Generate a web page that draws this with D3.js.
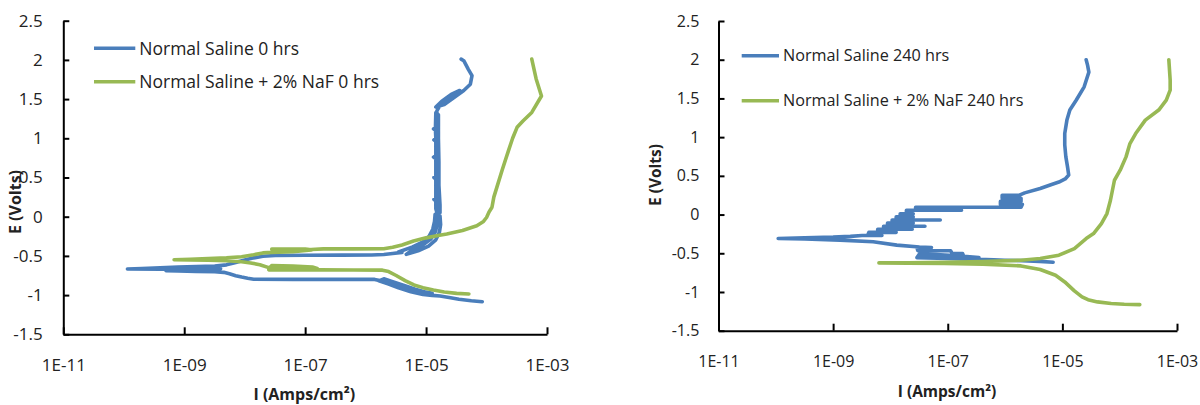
<!DOCTYPE html>
<html>
<head>
<meta charset="utf-8">
<script src="https://cdn.jsdelivr.net/npm/d3@7"></script>
<style>
  html, body { margin: 0; padding: 0; background: #fff; }
  svg { display: block; }
  text { font-family: "Open Sans", sans-serif; fill: #222; }
</style>
</head>
<body>
<svg id="chart" width="1200" height="405"></svg>
<script>
// Tick values for both panels
const currentTicks = [1e-11, 1e-9, 1e-7, 1e-5, 1e-3];
const potentialTicks = [-1.5, -1, -0.5, 0, 0.5, 1, 1.5, 2, 2.5];

// Legend labels
const names0 = ["Normal Saline 0 hrs", "Normal Saline + 2% NaF 0 hrs"];
const names240 = ["Normal Saline 240 hrs", "Normal Saline + 2% NaF 240 hrs"];

// Polarization scans: [current density (A/cm²), potential (V)] in scan order.
// Noisy stretches of a scan run back and forth, which shows as a thick band.
const saline0 = [
  [8.5e-5,-1.084],[5.6e-5,-1.072],[3.5e-5,-1.052],[2.4e-5,-1.030],[1.7e-5,-1.012],[1.26e-5,-1.003],
  [8.9e-6,-0.992],[5.6e-6,-0.958],[3.5e-6,-0.908],[2.4e-6,-0.858],[1.66e-6,-0.818],
  [2.0e-6,-0.792],[2.8e-6,-0.828],[4.2e-6,-0.875],[6.6e-6,-0.925],[1.0e-5,-0.962],[1.26e-5,-0.978],
  [8.9e-6,-0.975],[5.0e-6,-0.925],[3.2e-6,-0.872],[2.1e-6,-0.828],[1.41e-6,-0.800],
  [3.2e-7,-0.800],[6.3e-8,-0.800],[1.41e-8,-0.797],[1.12e-8,-0.785],[8.9e-9,-0.770],[7.1e-9,-0.752],
  [5.6e-9,-0.728],[4.5e-9,-0.710],[3.2e-9,-0.701],
  [1.58e-9,-0.697],[7.9e-10,-0.692],[5.0e-10,-0.689],
  [1.0e-9,-0.670],[4.0e-9,-0.665],
  [1.0e-9,-0.669],[4.0e-10,-0.669],[1.15e-10,-0.668],
  [2.0e-10,-0.660],[4.0e-10,-0.652],[7.9e-10,-0.643],[1.58e-9,-0.636],[3.2e-9,-0.630],[5.0e-9,-0.614],
  [7.1e-9,-0.585],[1.0e-8,-0.552],[1.41e-8,-0.525],[2.0e-8,-0.505],[3.2e-8,-0.495],[1.0e-7,-0.492],
  [4.0e-7,-0.490],[1.26e-6,-0.488],[2.0e-6,-0.482],[2.8e-6,-0.470],[4.0e-6,-0.455],
  [3.5e-6,-0.450],[6.0e-6,-0.385],[8.9e-6,-0.320],[1.12e-5,-0.250],[1.29e-5,-0.160],[1.38e-5,-0.060],
  [1.41e-5,0.030],
  [1.7e-5,0.010],[1.74e-5,-0.100],[1.66e-5,-0.200],[1.45e-5,-0.295],[1.1e-5,-0.375],[7.4e-6,-0.435],
  [4.7e-6,-0.480],
  [6.0e-6,-0.420],[8.9e-6,-0.360],[1.2e-5,-0.285],[1.43e-5,-0.190],[1.53e-5,-0.090],[1.55e-5,0.020],
  [1.45e-5,0.10],[1.45e-5,0.20],[1.35e-5,0.22],[1.45e-5,0.24],[1.45e-5,0.48],[1.35e-5,0.50],
  [1.45e-5,0.52],[1.45e-5,0.74],[1.33e-5,0.76],[1.45e-5,0.78],[1.45e-5,0.96],[1.35e-5,0.98],
  [1.45e-5,1.00],[1.43e-5,1.10],[1.33e-5,1.12],[1.43e-5,1.14],[1.45e-5,1.33],
  [1.6e-5,1.30],[1.6e-5,1.00],[1.63e-5,0.70],[1.63e-5,0.40],[1.7e-5,0.15],[1.7e-5,0.05],
  [1.55e-5,0.10],[1.52e-5,0.50],[1.52e-5,0.90],[1.51e-5,1.25],[1.51e-5,1.35],
  [1.7e-5,1.42],[2.2e-5,1.48],[3.6e-5,1.61],
  [2.6e-5,1.56],[1.8e-5,1.47],[1.45e-5,1.40],
  [2.0e-5,1.43],[2.9e-5,1.52],[4.2e-5,1.61],
  [5.4e-5,1.69],[5.75e-5,1.80],[5.0e-5,1.88],[4.2e-5,1.99],[3.8e-5,2.01]
];

const salineNaF0 = [
  [5.1e-5,-0.985],[3.2e-5,-0.978],[2.0e-5,-0.960],[1.32e-5,-0.935],[8.9e-6,-0.905],[6.3e-6,-0.870],
  [4.5e-6,-0.815],[3.2e-6,-0.750],[2.4e-6,-0.700],[1.9e-6,-0.682],[6.3e-7,-0.680],[1.78e-7,-0.678],
  [1.41e-7,-0.680],[2.5e-8,-0.678],
  [2.8e-8,-0.622],[6.3e-8,-0.630],[1.32e-7,-0.642],[1.58e-7,-0.660],
  [1.0e-7,-0.652],[2.5e-8,-0.650],
  [1.78e-8,-0.612],[1.26e-8,-0.590],[8.9e-9,-0.575],[5.0e-9,-0.562],[2.5e-9,-0.555],[1.26e-9,-0.552],
  [6.8e-10,-0.550],
  [1.26e-9,-0.543],[2.5e-9,-0.535],[5.0e-9,-0.525],[8.9e-9,-0.510],[1.41e-8,-0.485],[2.0e-8,-0.462],
  [2.8e-8,-0.455],[6.3e-8,-0.445],[1.26e-7,-0.425],
  [1.0e-7,-0.412],[2.8e-8,-0.414],
  [5.0e-8,-0.432],[1.26e-7,-0.418],[2.0e-7,-0.411],
  [6.3e-7,-0.410],[2.0e-6,-0.408],[2.8e-6,-0.390],[4.0e-6,-0.360],[6.2e-6,-0.310],[1.0e-5,-0.270],
  [1.58e-5,-0.240],[2.2e-5,-0.220],[4.0e-5,-0.175],[6.9e-5,-0.115],[8.9e-5,-0.060],[1.0e-4,-0.010],
  [1.1e-4,0.060],[1.23e-4,0.120],[1.32e-4,0.250],[1.48e-4,0.374],[1.82e-4,0.600],[2.3e-4,0.840],
  [2.7e-4,1.000],[3.2e-4,1.140],[4.0e-4,1.220],[5.6e-4,1.330],[8.1e-4,1.540],[6.6e-4,1.760],
  [5.6e-4,2.010]
];

const saline240 = [
  [6.9e-6,-0.616],[4.0e-6,-0.605],[2.0e-6,-0.595],[1.0e-6,-0.590],[6.3e-7,-0.585],
  [2.5e-7,-0.576],[1.0e-7,-0.566],[2.9e-8,-0.556],
  [3.2e-8,-0.510],[6.3e-8,-0.518],[1.26e-7,-0.530],[3.5e-7,-0.555],
  [1.9e-7,-0.540],[1.82e-7,-0.505],[1.2e-7,-0.505],[1.12e-7,-0.468],[3.0e-8,-0.466],
  [2.9e-8,-0.425],[5.2e-8,-0.425],[3.2e-8,-0.420],
  [1.29e-8,-0.395],[5.0e-9,-0.352],[1.32e-9,-0.330],[3.2e-10,-0.315],[1.1e-10,-0.309],
  [3.2e-10,-0.300],[1.0e-9,-0.292],[2.0e-9,-0.282],[3.2e-9,-0.270],
  [7.1e-9,-0.270],[4.0e-9,-0.270],[4.2e-9,-0.230],
  [1.26e-8,-0.230],[6.0e-9,-0.230],[6.0e-9,-0.190],
  [2.4e-8,-0.190],[7.6e-9,-0.190],[7.6e-9,-0.150],
  [4.0e-8,-0.150],[8.9e-9,-0.150],[8.9e-9,-0.110],
  [2.5e-8,-0.110],[1.07e-8,-0.110],[1.07e-8,-0.070],
  [7.4e-8,-0.070],[1.26e-8,-0.070],[1.26e-8,-0.030],
  [2.5e-8,-0.030],[1.48e-8,-0.030],[1.48e-8,0.010],
  [2.5e-8,0.010],[1.9e-8,0.010],[1.9e-8,0.055],
  [1.74e-7,0.055],[2.75e-8,0.055],[2.75e-8,0.095],
  [1.9e-6,0.095],
  [2.0e-6,0.130],[8.3e-7,0.130],[8.3e-7,0.170],[1.9e-6,0.170],[1.9e-6,0.210],[8.9e-7,0.210],
  [8.9e-7,0.250],[1.78e-6,0.250],
  [2.2e-6,0.280],[4.1e-6,0.336],[6.3e-6,0.385],[8.7e-6,0.420],[1.12e-5,0.460],[1.29e-5,0.510],
  [1.23e-5,0.616],[1.15e-5,0.745],[1.10e-5,0.900],[1.10e-5,1.046],[1.20e-5,1.220],[1.35e-5,1.350],
  [1.74e-5,1.477],[2.4e-5,1.650],[2.9e-5,1.840],[2.75e-5,1.930],[2.6e-5,2.000]
];

const salineNaF240 = [
  [2.24e-4,-1.163],[1.2e-4,-1.158],[7.1e-5,-1.148],[4.1e-5,-1.128],[2.8e-5,-1.100],[2.2e-5,-1.063],
  [1.62e-5,-0.986],[1.1e-5,-0.870],[7.6e-6,-0.784],[4.1e-6,-0.710],[1.9e-6,-0.663],[4.1e-7,-0.640],
  [8.7e-8,-0.633],[2.0e-8,-0.627],[6.3e-9,-0.624],
  [2.0e-8,-0.622],[8.7e-8,-0.618],[4.1e-7,-0.607],[1.9e-6,-0.590],[4.1e-6,-0.568],[8.7e-6,-0.525],
  [1.62e-5,-0.440],[2.6e-5,-0.310],[3.5e-5,-0.245],[4.8e-5,-0.116],[6.0e-5,0.013],[6.9e-5,0.185],
  [8.1e-5,0.443],[1.02e-4,0.573],[1.29e-4,0.745],[1.51e-4,0.917],[1.9e-4,1.046],[2.8e-4,1.220],
  [4.8e-4,1.350],[6.5e-4,1.477],[7.6e-4,1.606],[7.6e-4,1.735],[7.2e-4,2.000]
];

const colors = ["#4A7EBB", "#98B954"];

const svg = d3.select("#chart");

function drawPanel(p) {
  const x = d3.scaleLog().domain([1e-11, 1e-3]).range(p.xRange);
  const y = d3.scaleLinear().domain([-1.5, 2.5]).range(p.yRange);
  const g = svg.append("g");

  // curves (blue first, green drawn over it)
  const line = d3.line().x(d => x(d[0])).y(d => y(d[1]));
  p.series.forEach((s, i) => {
    g.append("path")
      .attr("d", line(s))
      .attr("fill", "none")
      .attr("stroke", colors[i])
      .attr("stroke-width", 3.6)
      .attr("stroke-linejoin", "round")
      .attr("stroke-linecap", "round");
  });

  // x axis
  const xAxis = d3.axisBottom(x)
    .tickValues(currentTicks)
    .tickSizeInner(-7)
    .tickSizeOuter(0)
    .tickFormat(d => "1E-" + String(Math.round(-Math.log10(d))).padStart(2, "0"));
  const gx = g.append("g")
    .attr("transform", `translate(0,${p.yRange[0]})`)
    .call(xAxis);
  gx.selectAll("text")
    .attr("y", p.xLabelOffset).attr("dy", 0)
    .style("font-size", p.tickFont + "px");

  // y axis
  const yAxis = d3.axisLeft(y)
    .tickValues(potentialTicks)
    .tickSizeInner(-6)
    .tickSizeOuter(0)
    .tickFormat(d => String(d));
  const gy = g.append("g")
    .attr("transform", `translate(${p.xRange[0]},0)`)
    .call(yAxis);
  gy.selectAll("text")
    .attr("x", -p.yLabelOffset)
    .style("font-size", p.tickFont + "px");

  [gx, gy].forEach(a => {
    a.attr("font-family", null).attr("font-size", null);
    a.select(".domain").attr("stroke", "#000").attr("stroke-width", 2);
    a.selectAll(".tick line").attr("stroke", "#000").attr("stroke-width", 2);
    a.selectAll("text").attr("fill", "#222");
  });

  // axis titles
  g.append("text")
    .attr("x", p.xTitle[0]).attr("y", p.xTitle[1])
    .attr("text-anchor", "middle")
    .style("font-size", p.titleFont + "px").style("font-weight", "bold")
    .text("I (Amps/cm²)");
  g.append("text")
    .attr("transform", `translate(${p.yTitle[0]},${p.yTitle[1]}) rotate(-90)`)
    .attr("text-anchor", "middle")
    .style("font-size", p.titleFont + "px").style("font-weight", "bold")
    .text("E (Volts)");

  // legend
  p.names.forEach((n, i) => {
    const ly = p.legendY[i];
    g.append("line")
      .attr("x1", p.legendX[0]).attr("x2", p.legendX[1])
      .attr("y1", ly).attr("y2", ly)
      .attr("stroke", colors[i]).attr("stroke-width", 3.6);
    g.append("text")
      .attr("x", p.legendX[1] + 4).attr("y", ly + p.legendBaseline)
      .style("font-size", p.legendFont + "px")
      .text(n);
  });
}

drawPanel({
  series: [saline0, salineNaF0], names: names0,
  xRange: [63.3, 547], yRange: [334.3, 20.7],
  tickFont: 17, xLabelOffset: 36.4, yLabelOffset: 20.6,
  titleFont: 16, xTitle: [304.3, 399.5], yTitle: [21, 202],
  legendX: [94, 135.3], legendY: [48.3, 81.7], legendFont: 17.5, legendBaseline: 6.5
});

drawPanel({
  series: [saline240, salineNaF240], names: names240,
  xRange: [718.5, 1177], yRange: [330.7, 21],
  tickFont: 16, xLabelOffset: 36, yLabelOffset: 19.2,
  titleFont: 15.5, xTitle: [947, 397], yTitle: [661, 175],
  legendX: [741.7, 779], legendY: [55.7, 100.7], legendFont: 16.2, legendBaseline: 5.5
});
</script>
</body>
</html>
